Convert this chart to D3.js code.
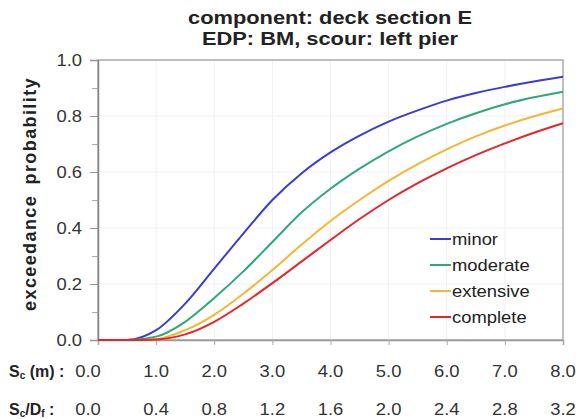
<!DOCTYPE html>
<html>
<head>
<meta charset="utf-8">
<script src="https://cdn.jsdelivr.net/npm/d3@7"></script>
<style>
  body { margin: 0; background: #fff; }
  svg { display: block; font-family: "Liberation Sans", Arial, sans-serif; }
</style>
</head>
<body>
<svg id="chart" width="585" height="419"></svg>
<script>
// ---- data ----
const scour = [0, 0.5, 1.0, 1.5, 2.0, 2.5, 3.0, 3.5, 4.0, 4.5, 5.0, 5.5, 6.0, 6.5, 7.0, 7.5, 8.0];
const minor     = [0, 0.0, 0.035, 0.13,  0.255, 0.38,  0.50,  0.595, 0.67,  0.73,  0.78,  0.82,  0.855, 0.882, 0.904, 0.923, 0.94];
const moderate  = [0, 0.0, 0.012, 0.065, 0.15,  0.245, 0.35,  0.455, 0.54,  0.612, 0.674, 0.727, 0.772, 0.81,  0.842, 0.867, 0.887];
const extensive = [0, 0.0, 0.003, 0.035, 0.09,  0.165, 0.25,  0.34,  0.425, 0.50,  0.568, 0.628, 0.681, 0.727, 0.766, 0.799, 0.827];
const complete  = [0, 0.0, 0.002, 0.02,  0.065, 0.13,  0.203, 0.28,  0.357, 0.432, 0.50,  0.56,  0.613, 0.66,  0.702, 0.74,  0.774];
const seriesNames = ["minor", "moderate", "extensive", "complete"];
const seriesColors = ["#3b3bd6", "#2fa878", "#f5b536", "#e8242b"];
const xTicksM = [0, 1, 2, 3, 4, 5, 6, 7, 8];
const xTickLabelsM = ["0.0", "1.0", "2.0", "3.0", "4.0", "5.0", "6.0", "7.0", "8.0"];
const xTickLabelsD = ["0.0", "0.4", "0.8", "1.2", "1.6", "2.0", "2.4", "2.8", "3.2"];
const yTicks = [0, 0.2, 0.4, 0.6, 0.8, 1.0];
const yTickLabels = ["0.0", "0.2", "0.4", "0.6", "0.8", "1.0"];
const yMinorTicks = [0.1, 0.3, 0.5, 0.7, 0.9];
const titleLines = ["component: deck section E", "EDP: BM, scour: left pier"];

const svg = d3.select("#chart");
const L = 98, T = 60, W = 465, H = 280;
const SX = 1.15; // horizontal stretch of the reference lettering
const x = d3.scaleLinear().domain([0, 8]).range([L, L + W]);
const y = d3.scaleLinear().domain([0, 1]).range([T + H, T]);

function stretched(px, py, anchor, sx) {
  return svg.append("text").attr("transform", `translate(${px},${py}) scale(${sx || SX},1)`)
    .attr("text-anchor", anchor || "start");
}

// grid
const g = svg.append("g");
g.selectAll(".vg").data(xTicksM.slice(1, -1)).join("line")
  .attr("x1", d => x(d)).attr("x2", d => x(d)).attr("y1", T).attr("y2", T + H)
  .attr("stroke", "#f0f0f0").attr("stroke-width", 1);
g.selectAll(".hg").data(yTicks.slice(1, -1)).join("line")
  .attr("x1", L).attr("x2", L + W).attr("y1", d => y(d)).attr("y2", d => y(d))
  .attr("stroke", "#f0f0f0").attr("stroke-width", 1);

// border
svg.append("rect").attr("x", L).attr("y", T).attr("width", W).attr("height", H)
  .attr("fill", "none").attr("stroke", "#aaaaaa").attr("stroke-width", 1.5);

// y axis
const yAxis = d3.axisLeft(y).tickValues(yTicks).tickSize(8).tickFormat("");
const ya = svg.append("g").attr("transform", `translate(${L},0)`).call(yAxis);
ya.select(".domain").attr("stroke", "#888").attr("stroke-width", 1.5);
ya.selectAll(".tick line").attr("stroke", "#999");
const yMinor = d3.axisLeft(y).tickValues(yMinorTicks).tickSize(6).tickFormat("");
const ym = svg.append("g").attr("transform", `translate(${L},0)`).call(yMinor);
ym.select(".domain").remove();
ym.selectAll(".tick line").attr("stroke", "#aaa");
yTicks.forEach((v, i) => {
  stretched(82, y(v) + 5.5, "end").attr("font-size", 16).attr("fill", "#333").text(yTickLabels[i]);
});

// x axis ticks
const xAxis = d3.axisBottom(x).tickValues(xTicksM).tickSize(5).tickFormat("");
const xa = svg.append("g").attr("transform", `translate(0,${T + H})`).call(xAxis);
xa.select(".domain").attr("stroke", "#999").attr("stroke-width", 1.5);
xa.selectAll(".tick line").attr("stroke", "#aaa");

// curves
const allSeries = [minor, moderate, extensive, complete];
const line = d3.line().x((d, i) => x(scour[i])).y(d => y(d)).curve(d3.curveMonotoneX);
allSeries.forEach((s, k) => {
  svg.append("path").datum(s).attr("d", line)
    .attr("fill", "none").attr("stroke", seriesColors[k]).attr("stroke-width", 2);
});

// legend
seriesNames.forEach((n, k) => {
  const ly = 239 + k * 26;
  svg.append("line").attr("x1", 430).attr("x2", 451).attr("y1", ly).attr("y2", ly)
    .attr("stroke", seriesColors[k]).attr("stroke-width", 2);
  stretched(452, ly + 5.5).attr("font-size", 16).attr("fill", "#222").text(n);
});

// title
titleLines.forEach((t, i) => {
  stretched(330, 24 + i * 21, "middle").attr("font-size", 19).attr("font-weight", "bold")
    .attr("fill", "#222").text(t);
});

// y label
svg.append("text").attr("transform", `translate(36,${T + H / 2 - 6}) rotate(-90)`)
  .attr("text-anchor", "middle").attr("font-size", 18).attr("font-weight", "bold")
  .attr("fill", "#222").attr("letter-spacing", 1.4).attr("word-spacing", 4)
  .text("exceedance probability");

// x label rows
function rowLabel(yy, parts) {
  const t = stretched(9, yy, "start", 1.0).attr("font-size", 16).attr("font-weight", "bold").attr("fill", "#222");
  parts.forEach(p => {
    const ts = t.append("tspan").text(p.t);
    if (p.sub) ts.attr("font-size", 10).attr("dy", 2);
    else if (p.back) ts.attr("dy", -2);
  });
}
const row1 = 377, row2 = 415;
rowLabel(row1, [{t: "S"}, {t: "c", sub: true}, {t: " (m) :", back: true}]);
rowLabel(row2, [{t: "S"}, {t: "c", sub: true}, {t: "/D", back: true}, {t: "f", sub: true}, {t: " :", back: true}]);

[[row1, xTickLabelsM], [row2, xTickLabelsD]].forEach(([yy, labels]) => {
  labels.forEach((d, i) => {
    const px = i === 0 ? x(xTicksM[i]) - 10 : x(xTicksM[i]);
    stretched(px, yy, "middle").attr("font-size", 16).attr("fill", "#333").text(d);
  });
});
</script>
</body>
</html>
